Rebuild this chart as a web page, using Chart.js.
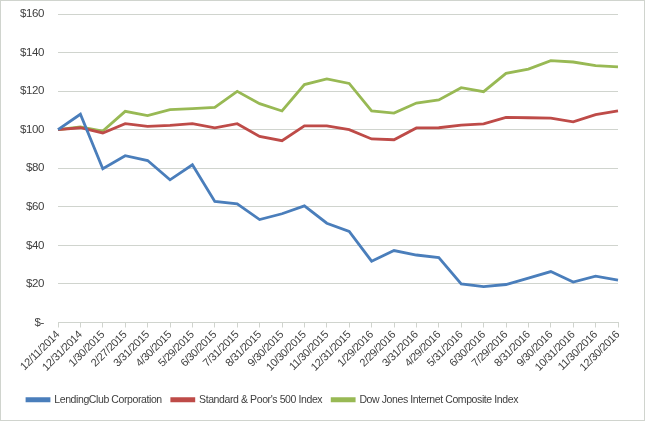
<!DOCTYPE html>
<html>
<head>
<meta charset="utf-8">
<script src="https://cdn.jsdelivr.net/npm/chart.js@4"></script>
<style>
  html, body { margin: 0; padding: 0; background: #fff; }
  #wrap { position: relative; width: 643px; height: 419px; border: 1px solid #d0d4ce; }
</style>
</head>
<body>
<div id="wrap"><canvas id="myChart"></canvas></div>
<script>
const dates = [
  "12/11/2014", "12/31/2014", "1/30/2015", "2/27/2015", "3/31/2015", "4/30/2015",
  "5/29/2015", "6/30/2015", "7/31/2015", "8/31/2015", "9/30/2015", "10/30/2015",
  "11/30/2015", "12/31/2015", "1/29/2016", "2/29/2016", "3/31/2016", "4/29/2016",
  "5/31/2016", "6/30/2016", "7/29/2016", "8/31/2016", "9/30/2016", "10/31/2016",
  "11/30/2016", "12/30/2016",
];
const lendingClub = [100, 108, 79.7, 86.5, 84, 74, 81.8, 62.8, 61.5, 53.4, 56.4, 60.5,
  51.5, 47.2, 31.8, 37.3, 35, 33.7, 20, 18.6, 19.7, 23, 26.4, 21, 24, 22];
const sp500 = [100, 101, 98.3, 103.1, 101.7, 102.2, 103.1, 101, 103.1, 96.5, 94.3, 102,
  102, 100, 95.2, 94.8, 100.9, 101, 102.4, 103, 106.4, 106.2, 106, 104.1, 107.8, 109.7];
const dowJones = [100, 101.4, 99.3, 109.5, 107.3, 110.4, 110.9, 111.6, 119.9, 113.5, 109.7, 123.4,
  126.3, 124, 109.8, 108.6, 113.8, 115.4, 121.8, 119.7, 129.2, 131.4, 135.8, 135.1, 133.2, 132.6];
const yTicks = [0, 20, 40, 60, 80, 100, 120, 140, 160];

const fontFam = "'Liberation Sans', Arial, sans-serif";
const gridCol = "#d0d4ce";

// squeeze the text a little, the original uses a narrow font
const narrowText = {
  id: "narrowText",
  beforeUpdate(chart) { chart.ctx.letterSpacing = "-0.4px"; },
  beforeDraw(chart) { chart.ctx.letterSpacing = "-0.4px"; },
  // the legend in the original sits left of centre
  afterLayout(chart) {
    if (chart.legend) {
      chart.legend.left -= 37;
      chart.legend.right -= 37;
    }
  },
};

const canvas = document.getElementById("myChart");
let myChart = new Chart(canvas, {
  type: "line",
  data: {
    labels: dates,
    datasets: [
      { label: "LendingClub Corporation", data: lendingClub, borderColor: "rgb(74,126,187)", backgroundColor: "rgb(74,126,187)" },
      { label: "Standard & Poor's 500 Index", data: sp500, borderColor: "rgb(190,75,72)", backgroundColor: "rgb(190,75,72)" },
      { label: "Dow Jones Internet Composite Index", data: dowJones, borderColor: "rgb(152,185,84)", backgroundColor: "rgb(152,185,84)" },
    ],
  },
  plugins: [narrowText],
  options: {
    responsive: true,
    maintainAspectRatio: false,
    animation: false,
    events: [],
    layout: { padding: { left: 0, right: 26, top: 13, bottom: 5 } },
    elements: {
      line: { borderWidth: 2.8, tension: 0 },
      point: { radius: 0 },
    },
    plugins: {
      tooltip: { enabled: false },
      legend: {
        position: "bottom",
        labels: {
          font: { family: fontFam, size: 10.5 },
          color: "#404040",
          boxWidth: 22,
          boxHeight: 2,
          padding: 10,
        },
      },
    },
    scales: {
      x: {
        offset: false,
        grid: { drawOnChartArea: false, drawTicks: true, tickLength: 5, color: gridCol },
        border: { color: gridCol },
        ticks: {
          font: { family: fontFam, size: 11 },
          color: "#404040",
          maxRotation: 45,
          minRotation: 45,
          autoSkip: false,
          padding: 1,
        },
        afterFit: (s) => { s.height = 62; },
      },
      y: {
        min: 0,
        max: 160,
        afterBuildTicks: (s) => { s.ticks = yTicks.map((v) => ({ value: v })); },
        grid: { color: gridCol, drawTicks: false },
        border: { display: false },
        ticks: {
          font: { family: fontFam, size: 11.5 },
          color: "#404040",
          padding: 14,
          callback: (v) => (v === 0 ? "$-" : "$" + v),
        },
        afterFit: (s) => {
          s.width = 57;
          s.paddingTop = 0;
          s.paddingBottom = 0;
        },
      },
    },
  },
});
</script>
</body>
</html>
